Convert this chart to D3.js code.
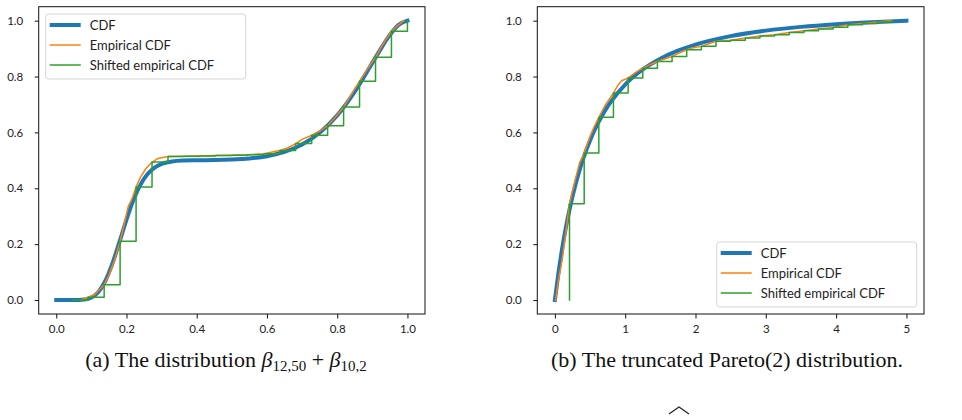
<!DOCTYPE html>
<html>
<head>
<meta charset="utf-8">
<script src="https://cdn.jsdelivr.net/npm/d3@7"></script>
<style>
  body { margin: 0; background: #fff; }
  .tick text { font-family: Lato, "Open Sans", sans-serif; font-size: 11.5px; fill: #222; }
  .legend text { font-family: Lato, "Open Sans", sans-serif; font-size: 13px; fill: #222; }
  .caption { font-family: "Liberation Serif", "DejaVu Serif", serif; font-size: 22px; fill: #111; }
</style>
</head>
<body>
<svg id="chart" width="962" height="420"></svg>
<script>
// Shared
const seriesNames = ['CDF', 'Empirical CDF', 'Shifted empirical CDF'];
const seriesColors = ['#1f77b4', '#ff7f0e', '#2ca02c'];
const yTicks = [0, 0.2, 0.4, 0.6, 0.8, 1.0];

// (a) beta mixture
const betaTicks = [0, 0.2, 0.4, 0.6, 0.8, 1.0];
const betaCdfX = [0, 0.05, 0.08, 0.10, 0.12, 0.14, 0.16, 0.18, 0.20, 0.22, 0.24, 0.26, 0.28, 0.30, 0.33, 0.36, 0.40, 0.45, 0.50, 0.55, 0.60, 0.65, 0.70, 0.75, 0.80, 0.825, 0.85, 0.875, 0.90, 0.925, 0.95, 0.975, 1.0];
const betaCdfY = [0, 0, 0.002, 0.009, 0.029, 0.069, 0.131, 0.208, 0.288, 0.359, 0.413, 0.451, 0.474, 0.4875, 0.496, 0.4993, 0.5004, 0.501, 0.503, 0.507, 0.515, 0.530, 0.5565, 0.5986, 0.661, 0.701, 0.746, 0.796, 0.849, 0.901, 0.949, 0.985, 1.0];
const betaEcdfX = [0.071, 0.0909, 0.11, 0.1364, 0.15, 0.165, 0.1818, 0.195, 0.205, 0.215, 0.2273, 0.24, 0.255, 0.2727, 0.29, 0.3182, 0.3636, 0.4091, 0.4545, 0.5, 0.5455, 0.5909, 0.6364, 0.66, 0.6818, 0.70, 0.7273, 0.75, 0.7727, 0.795, 0.8182, 0.84, 0.8636, 0.885, 0.9091, 0.93, 0.9545, 0.975, 0.99];
const betaEcdfY = [0, 0.01, 0.02, 0.055, 0.09, 0.14, 0.21, 0.28, 0.335, 0.36, 0.405, 0.44, 0.47, 0.494, 0.507, 0.514, 0.515, 0.516, 0.517, 0.518, 0.52, 0.524, 0.535, 0.545, 0.56, 0.575, 0.59, 0.605, 0.624, 0.655, 0.691, 0.735, 0.783, 0.825, 0.869, 0.915, 0.962, 0.985, 1.0];
const betaShiftX = [0.0455, 0.0909, 0.1364, 0.1818, 0.2273, 0.2727, 0.3182, 0.3636, 0.4091, 0.4545, 0.5, 0.5455, 0.5909, 0.6364, 0.6818, 0.7273, 0.7727, 0.8182, 0.8636, 0.9091, 0.9545, 1.0];
const betaShiftY = [0, 0.01, 0.055, 0.21, 0.405, 0.494, 0.514, 0.515, 0.516, 0.517, 0.518, 0.52, 0.524, 0.535, 0.56, 0.59, 0.624, 0.691, 0.783, 0.869, 0.962, 1.0];

// (b) truncated Pareto(2)
const paretoTicks = [0, 1, 2, 3, 4, 5];
const paretoCdfX = [0, 0.05, 0.1, 0.15, 0.2, 0.3, 0.4, 0.5, 0.6, 0.7, 0.8, 1.0, 1.25, 1.5, 1.75, 2, 2.5, 3, 3.5, 4, 4.5, 5];
const paretoCdfY = [0, 0.0956, 0.1785, 0.2509, 0.3143, 0.42, 0.5038, 0.5714, 0.6268, 0.6727, 0.7111, 0.7714, 0.8254, 0.864, 0.8926, 0.9143, 0.9446, 0.9643, 0.9778, 0.9874, 0.9945, 1.0];
const paretoEcdfX = [0.01, 0.05, 0.1, 0.15, 0.208, 0.25, 0.3, 0.35, 0.417, 0.45, 0.5, 0.55, 0.625, 0.7, 0.75, 0.833, 0.9, 0.95, 1.042, 1.15, 1.25, 1.35, 1.458, 1.55, 1.667, 1.75, 1.875, 1.95, 2.083, 2.2, 2.292, 2.5, 2.708, 2.917, 3.125, 3.333, 3.542, 3.75, 3.958, 4.167, 4.375, 4.583, 4.792];
const paretoEcdfY = [0, 0.07, 0.14, 0.23, 0.345, 0.39, 0.44, 0.49, 0.526, 0.55, 0.585, 0.615, 0.654, 0.69, 0.71, 0.741, 0.77, 0.785, 0.795, 0.815, 0.83, 0.842, 0.854, 0.862, 0.872, 0.882, 0.896, 0.902, 0.908, 0.918, 0.926, 0.93, 0.938, 0.945, 0.95, 0.958, 0.964, 0.97, 0.976, 0.985, 0.99, 0.995, 1.0];
const paretoShiftX = [0.208, 0.208, 0.417, 0.625, 0.833, 1.042, 1.25, 1.458, 1.667, 1.875, 2.083, 2.292, 2.5, 2.708, 2.917, 3.125, 3.333, 3.542, 3.75, 3.958, 4.167, 4.375, 4.583, 4.792];
const paretoShiftY = [0, 0.345, 0.526, 0.654, 0.741, 0.795, 0.83, 0.854, 0.872, 0.896, 0.908, 0.926, 0.93, 0.938, 0.945, 0.95, 0.958, 0.964, 0.97, 0.976, 0.985, 0.99, 0.995, 1.0];

const svg = d3.select('#chart');
const zip = (xs, ys) => xs.map((x, i) => [x, ys[i]]);

function drawPanel(cfg) {
    const x = d3.scaleLinear().domain(cfg.xDomain).range([cfg.left, cfg.right]);
    const y = d3.scaleLinear().domain([-0.05, 1.05]).range([cfg.bottom, cfg.top]);
    const g = svg.append('g');

    const line = curve => d3.line().x(d => x(d[0])).y(d => y(d[1])).curve(curve);
    const series = [
        { data: cfg.cdf, curve: d3.curveMonotoneX, width: 4 },
        { data: cfg.ecdf, curve: d3.curveLinear, width: 1.5 },
        { data: cfg.shifted, curve: d3.curveStepAfter, width: 1.5 }
    ];
    series.forEach((s, i) => {
        g.append('path')
            .attr('d', line(s.curve)(s.data))
            .attr('fill', 'none')
            .attr('stroke', seriesColors[i])
            .attr('stroke-width', s.width)
            .attr('stroke-linecap', 'square')
            .attr('stroke-linejoin', 'round');
    });

    // frame
    g.append('rect')
        .attr('x', cfg.left).attr('y', cfg.top)
        .attr('width', cfg.right - cfg.left).attr('height', cfg.bottom - cfg.top)
        .attr('fill', 'none').attr('stroke', '#111').attr('stroke-width', 1);

    const xAxis = g.append('g')
        .attr('transform', `translate(0,${cfg.bottom})`)
        .call(d3.axisBottom(x).tickValues(cfg.xTicks).tickFormat(cfg.xFormat).tickSize(4.5).tickPadding(6));
    const yAxis = g.append('g')
        .attr('transform', `translate(${cfg.left},0)`)
        .call(d3.axisLeft(y).tickValues(yTicks).tickFormat(d3.format('.1f')).tickSize(4).tickPadding(11.5));
    [xAxis, yAxis].forEach(a => {
        a.select('.domain').remove();
        a.selectAll('.tick line').attr('stroke', '#111').attr('stroke-width', 1);
        a.attr('font-family', null).attr('font-size', null);
    });

    // legend
    const lg = g.append('g').attr('class', 'legend')
        .attr('transform', `translate(${cfg.legend[0]},${cfg.legend[1]})`);
    lg.append('rect')
        .attr('x', 0).attr('y', 0).attr('width', 200).attr('height', 65)
        .attr('rx', 3)
        .attr('fill', '#fff').attr('fill-opacity', 0.8)
        .attr('stroke', '#d6d6d6').attr('stroke-width', 1);
    seriesNames.forEach((name, i) => {
        const yy = 11 + i * 20;
        lg.append('line')
            .attr('x1', 4).attr('x2', 35).attr('y1', yy).attr('y2', yy)
            .attr('stroke', seriesColors[i])
            .attr('stroke-width', i === 0 ? 4 : 1.5);
        lg.append('text')
            .attr('x', 44).attr('y', yy).attr('dy', '0.35em')
            .text(name);
    });

    // caption
    const cap = svg.append('text').attr('class', 'caption')
        .attr('x', cfg.captionX).attr('y', 367).attr('text-anchor', 'middle');
    cfg.caption.forEach(part => {
        const t = cap.append('tspan').text(part.text);
        if (part.italic) t.attr('font-style', 'italic');
        if (part.sub) t.attr('font-size', '15px').attr('baseline-shift', '-4px');
    });
}

drawPanel({
    left: 38.7, right: 425, top: 6.7, bottom: 314,
    xDomain: [-0.05, 1.05], xTicks: betaTicks, xFormat: d3.format('.1f'),
    cdf: zip(betaCdfX, betaCdfY),
    ecdf: zip(betaEcdfX, betaEcdfY),
    shifted: zip(betaShiftX, betaShiftY),
    legend: [45.7, 14],
    captionX: 226,
    caption: [
        { text: '(a) The distribution ' },
        { text: 'β', italic: true },
        { text: '12,50', sub: true },
        { text: ' + ' },
        { text: 'β', italic: true },
        { text: '10,2', sub: true }
    ]
});

drawPanel({
    left: 537.3, right: 924, top: 6.7, bottom: 314,
    xDomain: [-0.25, 5.25], xTicks: paretoTicks, xFormat: d3.format('d'),
    cdf: zip(paretoCdfX, paretoCdfY),
    ecdf: zip(paretoEcdfX, paretoEcdfY),
    shifted: zip(paretoShiftX, paretoShiftY),
    legend: [716.7, 242],
    captionX: 727,
    caption: [{ text: '(b) The truncated Pareto(2) distribution.' }]
});

// cut-off line of the following text: only a wide hat shows
svg.append('path')
    .attr('d', 'M669,414 L679,407 L689,414')
    .attr('fill', 'none').attr('stroke', '#222').attr('stroke-width', 1.2);
</script>
</body>
</html>
